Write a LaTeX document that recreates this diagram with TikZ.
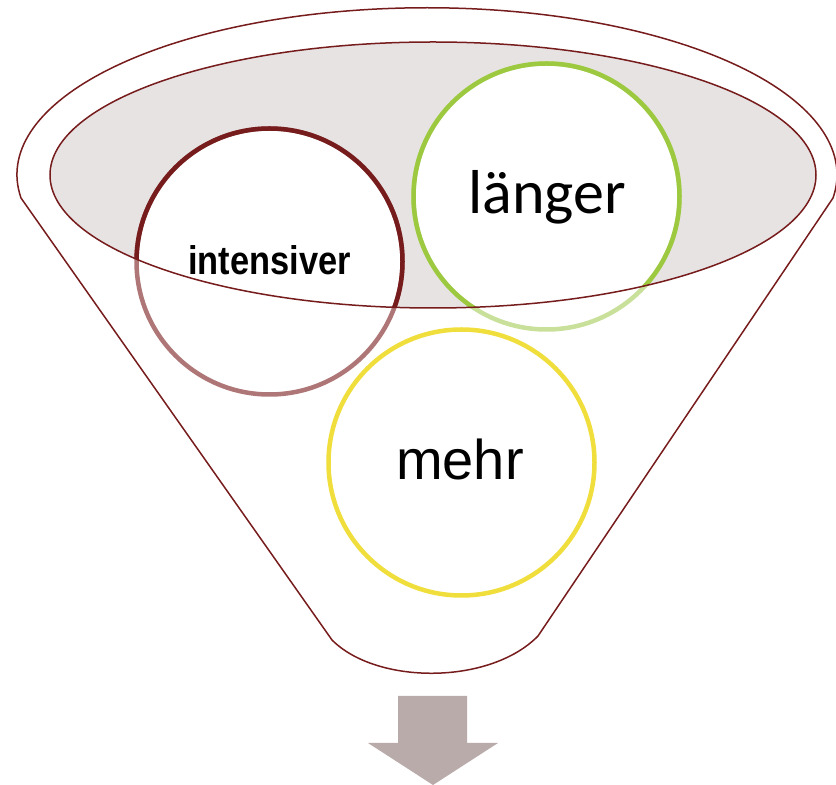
\documentclass[tikz,border=0pt]{standalone}
\usepackage{fontspec}
\setmainfont{Liberation Sans}
\newfontfamily\intfont{Liberation Sans}[FakeStretch=0.86]
\newfontfamily\calfont{Carlito}
\definecolor{maroon}{RGB}{118,28,28}
\definecolor{maroonlt}{RGB}{174,118,118}
\definecolor{grn}{RGB}{157,201,64}
\definecolor{grnlt}{RGB}{200,224,154}
\definecolor{ylw}{RGB}{240,222,60}
\definecolor{funnelgray}{RGB}{231,227,227}
\definecolor{arrowgray}{RGB}{186,171,171}
\tikzset{
  funnelline/.style={draw=maroon, line width=1.5pt},
  ring/.style={circle, fill=white, line width=4.5pt, inner sep=0pt, minimum size=266pt},
  word/.style={anchor=base, inner sep=0pt, text=black},
}
\begin{document}
\begin{tikzpicture}[x=1pt,y=1pt]
\useasboundingbox (0,0) rectangle (836,785);
% funnel outline
\draw[funnelline] (21,587) arc[start angle=188, end angle=-8, x radius=410, y radius=167]
  -- (538,149) .. controls (490,100) and (377,100) .. (332,145) -- cycle;
% inner ellipse fill
\fill[funnelgray] (433,610) ellipse[x radius=383, y radius=133];
% circles
\node[ring, draw=maroonlt] (cint) at (269.5,523.5) {};
\node[ring, draw=grnlt] (clang) at (546.5,588.5) {};
\node[ring, draw=ylw] (cmehr) at (461.5,322.5) {};
\begin{scope}
  \clip (433,610) ellipse[x radius=383, y radius=133];
  \draw[maroon, line width=4.5pt] (cint.center) circle[radius=133];
  \draw[grn, line width=4.5pt] (clang.center) circle[radius=133];
\end{scope}
% inner ellipse outline
\draw[funnelline] (433,610) ellipse[x radius=383, y radius=133];
% texts
\node[word, font={\intfont\bfseries\fontsize{40}{48}\selectfont}] (tint) at (269.5,510) {intensiver};
\node[word, font={\calfont\fontsize{62}{72}\selectfont}] (tlang) at (547,571) {länger};
\node[word, font={\fontsize{56}{66}\selectfont}] (tmehr) at (460,305) {mehr};
% arrow
\fill[arrowgray] (398,89) -- (467,89) -- (467,42) -- (498,42) -- (433,0) -- (368,42) -- (398,42) -- cycle;
\end{tikzpicture}
\end{document}
